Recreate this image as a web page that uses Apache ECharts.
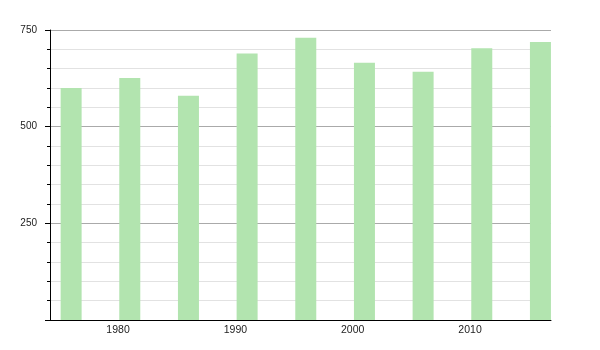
<!DOCTYPE html>
<html>
<head>
<meta charset="utf-8">
<script src="https://cdn.jsdelivr.net/npm/echarts@6/dist/echarts.min.js"></script>
<style>
html,body{margin:0;padding:0;background:#fff;}
#chart{width:600px;height:350px;}
</style>
</head>
<body>
<div id="chart"></div>
<script>
const years = [1976, 1981, 1986, 1991, 1996, 2001, 2006, 2011, 2016];
const values = [600, 626, 580, 689, 730, 665, 642, 703, 719];
const xTickLabels = [1980, 1990, 2000, 2010];
const yTickLabels = [250, 500, 750];

const chart = echarts.init(document.getElementById('chart'), null, {renderer: 'canvas'});
chart.setOption({
  animation: false,
  backgroundColor: '#ffffff',
  grid: {left: 50, right: 49, top: 30, bottom: 30, containLabel: false},
  xAxis: {
    type: 'value',
    min: 1974.2,
    max: 2016.9,
    axisLine: {show: true, onZero: false, lineStyle: {color: '#000', width: 1}},
    axisTick: {show: false},
    splitLine: {show: false},
    axisLabel: {
      customValues: xTickLabels,
      formatter: v => String(v),
      color: '#222',
      fontSize: 10.5,
      fontFamily: 'Liberation Sans, Arial, sans-serif',
      margin: 5
    }
  },
  yAxis: {
    type: 'value',
    min: 0,
    max: 750,
    interval: 250,
    axisLine: {show: true, lineStyle: {color: '#000', width: 1}},
    axisTick: {show: true, length: 5, lineStyle: {color: '#000'}},
    minorTick: {show: true, splitNumber: 5, length: 3, lineStyle: {color: '#000'}},
    splitLine: {show: true, lineStyle: {color: '#aaaaaa', width: 1}},
    minorSplitLine: {show: true, lineStyle: {color: '#e2e2e2', width: 1}},
    axisLabel: {
      formatter: v => (yTickLabels.indexOf(v) >= 0 ? String(v) : ''),
      color: '#222',
      fontSize: 10,
      fontFamily: 'Liberation Sans, Arial, sans-serif',
      margin: 13
    }
  },
  series: [{
    type: 'bar',
    barWidth: 21,
    itemStyle: {color: '#b2e4af'},
    data: years.map((y, i) => [y, values[i]])
  }]
});
</script>
</body>
</html>
